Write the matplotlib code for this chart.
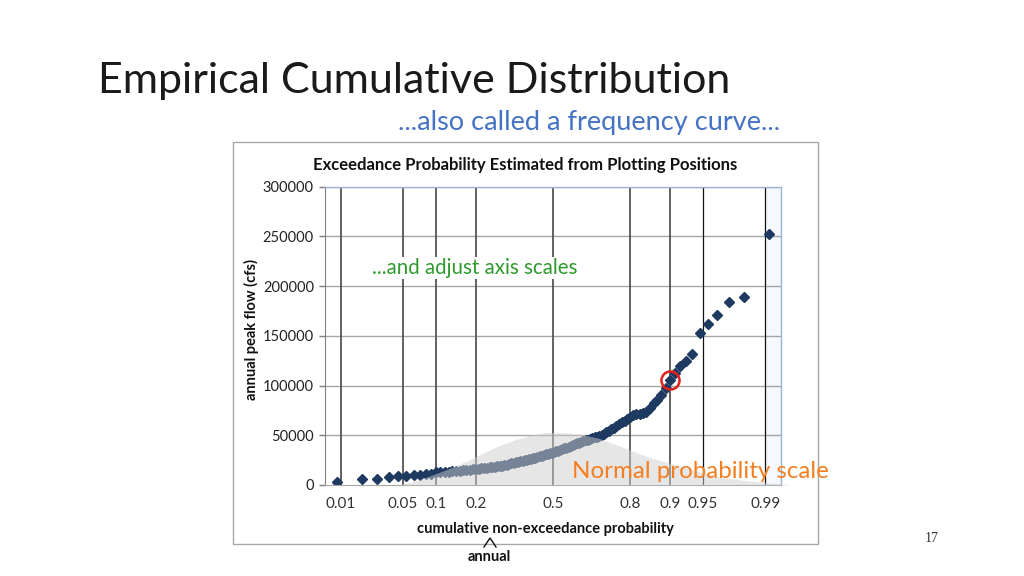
"""
Empirical cumulative distribution slide: annual peak flows on a normal
probability scale (Weibull plotting positions).
"""
from statistics import NormalDist

import numpy as np
import matplotlib
matplotlib.use('Agg')
import matplotlib.pyplot as plt
from matplotlib.patches import Rectangle

plt.rcParams['font.family'] = ['Lato', 'DejaVu Sans']

# ── Data ──────────────────────────────────────────────────────────────────────

# sorted annual peak flows, cfs (110 years)
peak_flow = [
    3300, 5700, 6000, 7700, 8600, 9000, 9600, 10300, 10900, 11500,
    12600, 12900, 13200, 13500, 13900, 14200, 14500, 14700, 15000, 15300,
    15700, 16000, 16400, 16700, 17100, 17400, 17700, 18100, 18400, 18700,
    19000, 19500, 20100, 20600, 21200, 21700, 22200, 22700, 23300, 23800,
    24300, 24800, 25400, 25900, 26400, 26800, 27500, 28200, 28800, 29400,
    30000, 30700, 31300, 31900, 32600, 33200, 33800, 34400, 35100, 35800,
    36800, 37600, 38400, 39200, 40100, 40900, 41800, 42600, 43400, 44100,
    44800, 45600, 46300, 47200, 47800, 48600, 49600, 50600, 51600, 53000,
    54500, 55900, 57400, 59300, 61100, 62900, 64600, 66500, 68300, 70400,
    71000, 71800, 72300, 73500, 77300, 82500, 85500, 90000, 97000, 105500,
    112500, 119500, 125000, 132000, 153000, 162000, 171000, 184000, 189000, 252000,
]
highlight_rank = 100          # the circled point (p = 0.9)

prob_ticks = [0.01, 0.05, 0.1, 0.2, 0.5, 0.8, 0.9, 0.95, 0.99]
prob_labels = ['0.01', '0.05', '0.1', '0.2', '0.5', '0.8', '0.9', '0.95', '0.99']
flow_ticks = [0, 50000, 100000, 150000, 200000, 250000, 300000]

# grey "normal curve" backdrop, in standard-normal units / cfs
bell_z = [-1.70, -1.55, -1.40, -1.25, -1.10, -0.90, -0.70, -0.55, -0.40, -0.25,
          -0.10, 0.05, 0.20, 0.35, 0.50, 0.65, 0.85, 1.05, 1.28, 1.50,
          1.83, 2.10, 2.40, 2.65]
bell_h = [0, 3000, 7500, 12500, 18000, 26000, 35000, 41000, 46000, 50000,
          52500, 53000, 52000, 50000, 47000, 42000, 35000, 28000, 22000, 16000,
          8000, 4500, 2000, 0]

W, H = 1024, 576


def fx(x, y):
    """pixel position on the slide -> figure fraction"""
    return x / W, 1 - y / H


# ── Figure ────────────────────────────────────────────────────────────────────

nd = NormalDist()
n = len(peak_flow)
z_pts = np.array([nd.inv_cdf(i / (n + 1)) for i in range(1, n + 1)])
z_ticks = [nd.inv_cdf(p) for p in prob_ticks]

fig = plt.figure(figsize=(W / 100, H / 100), dpi=100)
ax = fig.add_axes([325 / W, 1 - 485 / H, (781 - 325) / W, (485 - 186.5) / H])

# chart frame
fig.patches.append(Rectangle(fx(233, 544), (818 - 233) / W, (544 - 142) / H,
                             transform=fig.transFigure, fill=False,
                             edgecolor='#a6a6a6', lw=1.0))

ax.set_xlim(-2.5, 2.5)
ax.set_ylim(0, 300000)

# grid: grey horizontals, dark verticals at the probability ticks
for f in flow_ticks[1:]:
    ax.axhline(f, color='#a6a6a6', lw=1.0, zorder=1)
for zt in z_ticks:
    dark = zt > 1.5
    ax.axvline(zt, color='#111111' if dark else '#555555',
               lw=0.9 if dark else 1.3, zorder=1)
ax.axvspan(z_ticks[-1], 2.5, color='#f5f8fc', lw=0, zorder=0)

ax.plot(z_pts, peak_flow, ls='none', marker='D', ms=5.5,
        color='#1f3a60', mec='#1f3a60', zorder=2)

ax.fill_between(bell_z, 0, bell_h, color='#cfcfcf', alpha=0.5, lw=0,
                zorder=3, clip_on=False)

hi = highlight_rank - 1
ax.plot([z_pts[hi]], [peak_flow[hi]], marker='o', ms=13, mfc='none',
        mec='#e3201b', mew=1.8, zorder=5)

for s in ('top', 'right'):
    ax.spines[s].set_color('#9db4d6')
    ax.spines[s].set_linewidth(1.0)
ax.spines['left'].set_color('#7f7f7f')
ax.spines['bottom'].set_color('#a6a6a6')

ax.set_xticks(z_ticks)
ax.set_xticklabels(prob_labels)
ax.set_yticks(flow_ticks)
ax.set_yticklabels([str(f) for f in flow_ticks])
ax.tick_params(axis='x', length=0, pad=9, labelsize=11, colors='#333333')
ax.tick_params(axis='y', length=4, width=1, pad=4, labelsize=10.5,
               colors='#7f7f7f', labelcolor='#222222')
ax.set_facecolor('white')

# ── Text ──────────────────────────────────────────────────────────────────────

fig.text(*fx(98, 93), 'Empirical Cumulative Distribution', fontsize=31,
         color='#1a1a1a', ha='left', va='baseline')
fig.text(*fx(398, 130), '...also called a frequency curve...', fontsize=19.5,
         color='#4472c4', ha='left', va='baseline')
fig.text(*fx(525, 170), 'Exceedance Probability Estimated from Plotting Positions',
         fontsize=12, fontweight='bold', color='#111111', ha='center', va='baseline')
fig.text(*fx(251, 330), 'annual peak flow (cfs)', fontsize=10.5, fontweight='bold',
         rotation=90, ha='center', va='center', color='#111111')
fig.text(*fx(545, 529), 'cumulative non-exceedance probability', fontsize=10.5,
         fontweight='bold', ha='center', va='center', color='#111111')
fig.text(*fx(489, 557), 'annual', fontsize=10.5, fontweight='bold',
         ha='center', va='center', color='#111111')
fig.add_artist(plt.Line2D([484 / W, 490 / W, 496 / W],
                          [1 - 547 / H, 1 - 538 / H, 1 - 547 / H],
                          transform=fig.transFigure, color='#111111', lw=1.0))
fig.text(*fx(475, 268), '...and adjust axis scales', fontsize=14.8, color='#2e9a2e',
         ha='center', va='center', zorder=6,
         bbox=dict(facecolor='white', edgecolor='none', pad=1))
fig.text(*fx(700, 471), 'Normal probability scale', fontsize=17.4, color='#f47e20',
         ha='center', va='center', zorder=6)
fig.text(*fx(932, 539), '17', fontsize=10, family='Liberation Serif',
         color='#333333', ha='center', va='center')

fig.savefig('out.png', dpi=100)
